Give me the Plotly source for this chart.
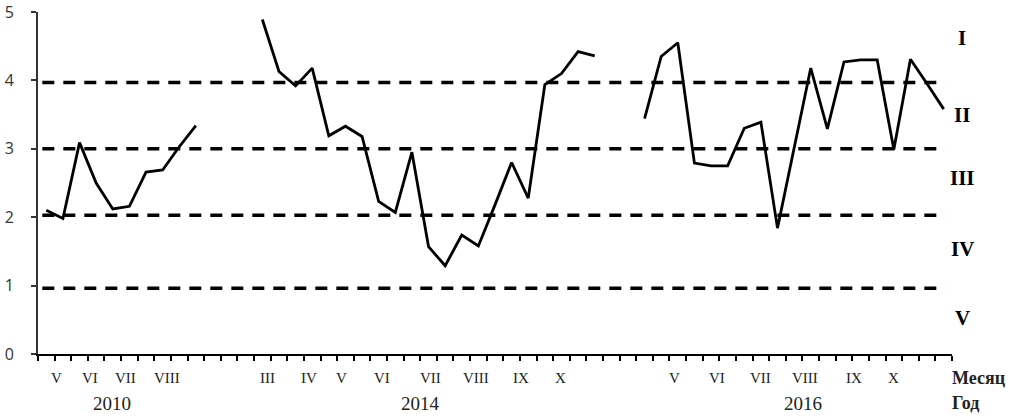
import plotly.graph_objects as go

# index values (weekly points, gaps between years)
vals_2010 = [2.10, 1.98, 3.09, 2.50, 2.12, 2.16, 2.66, 2.69, 3.03, 3.34]
vals_2014 = [4.89, 4.13, 3.92, 4.18, 3.19, 3.33, 3.18, 2.23, 2.07, 2.95, 1.57,
             1.29, 1.74, 1.58, 2.18, 2.80, 2.28, 3.94, 4.10, 4.42, 4.36]
vals_2016 = [3.44, 4.35, 4.55, 2.79, 2.75, 2.75, 3.30, 3.39, 1.84, 3.01,
             4.18, 3.29, 4.27, 4.30, 4.30, 2.99, 4.31, 3.95, 3.58]
starts = [0, 13, 36]
n_slots = 55

# class boundaries (dashed) and class names
bounds = [3.97, 3.0, 2.03, 0.96]
classes = ["I", "II", "III", "IV", "V"]
class_pos = [4.62, 3.50, 2.58, 1.53, 0.53]

# month labels under the axis
months_2010 = ["V", "VI", "VII", "VIII"]
mpos_2010 = [0.64, 2.60, 4.74, 7.24]
months_2014 = ["III", "IV", "V", "VI", "VII", "VIII", "IX", "X"]
mpos_2014 = [13.33, 15.79, 17.74, 20.23, 23.14, 25.84, 28.54, 30.94]
months_2016 = ["V", "VI", "VII", "VIII", "IX", "X"]
mpos_2016 = [37.83, 40.33, 42.99, 45.67, 48.63, 50.99]
years = ["2010", "2014", "2016"]
year_pos = [3.94, 22.54, 45.53]

serif = "Liberation Serif"

fig = go.Figure()
for vals, s in zip([vals_2010, vals_2014, vals_2016], starts):
    fig.add_trace(go.Scatter(
        x=list(range(s, s + len(vals))), y=vals, mode="lines",
        line=dict(color="black", width=2.8), showlegend=False))

for b in bounds:
    fig.add_shape(type="line", xref="x", yref="y", x0=-0.24, x1=54.1, y0=b, y1=b,
                  line=dict(color="black", width=3.5, dash="12px,9px"), layer="below")

for c, p in zip(classes, class_pos):
    fig.add_annotation(text=c, xref="paper", x=1, xshift=10, xanchor="center",
                       yref="y", y=p, yanchor="middle", showarrow=False,
                       font=dict(family=serif, size=21, color="black", weight="bold"))

for labels, pos in [(months_2010, mpos_2010), (months_2014, mpos_2014), (months_2016, mpos_2016)]:
    for t, p in zip(labels, pos):
        fig.add_annotation(text=t, xref="x", x=p, yref="paper", y=0, yshift=-24,
                           yanchor="middle", showarrow=False,
                           font=dict(family=serif, size=15, color="#222"))

for t, p in zip(years, year_pos):
    fig.add_annotation(text=t, xref="x", x=p, yref="paper", y=0, yshift=-49,
                       yanchor="middle", showarrow=False,
                       font=dict(family=serif, size=19, color="#222"))

fig.add_annotation(text="Месяц", xref="paper", x=1, xshift=-2, xanchor="left",
                   yref="paper", y=0, yshift=-24, yanchor="middle", showarrow=False,
                   font=dict(family=serif, size=18, color="#222", weight="bold"))
fig.add_annotation(text="Год", xref="paper", x=1, xshift=-2, xanchor="left",
                   yref="paper", y=0, yshift=-49, yanchor="middle", showarrow=False,
                   font=dict(family=serif, size=18, color="#222", weight="bold"))

fig.update_xaxes(range=[-0.5, n_slots - 0.5],
                 tickvals=[i - 0.5 for i in range(n_slots + 1)],
                 showticklabels=False, ticks="outside", ticklen=5, tickwidth=2,
                 tickcolor="black", showline=True, linecolor="black", linewidth=2,
                 showgrid=False, zeroline=False, automargin=False)
fig.update_yaxes(range=[0, 5], tickvals=[0, 1, 2, 3, 4, 5],
                 ticks="outside", ticklen=5, tickwidth=2, tickcolor="#333",
                 showline=True, linecolor="#333", linewidth=2,
                 showgrid=False, zeroline=False, ticklabelstandoff=14,
                 automargin=False,
                 tickfont=dict(family="Open Sans", size=16, color="#333"))
fig.update_layout(width=1016, height=419, margin=dict(l=38, r=64, t=12, b=65),
                  plot_bgcolor="white", paper_bgcolor="white")

# drop the browser's default body margin so the figure fills the window
fig.write_html("out.html", config={"displayModeBar": False},
               post_script="document.body.style.margin = '0';")
